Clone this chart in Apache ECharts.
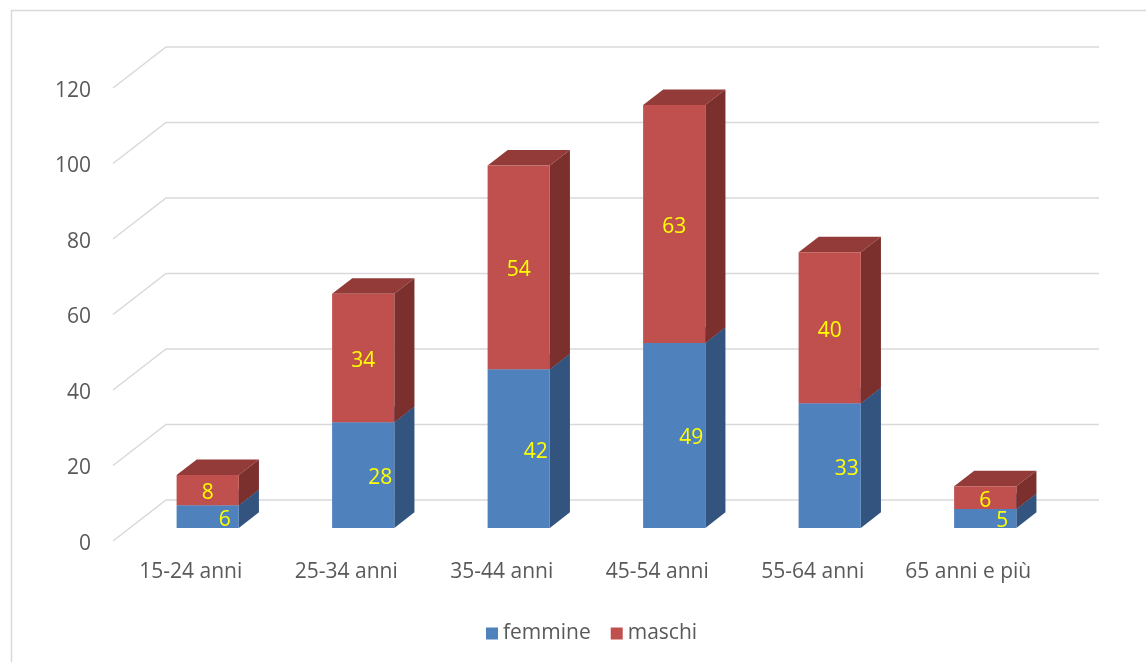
<!DOCTYPE html>
<html>
<head>
<meta charset="utf-8">
<script src="https://cdn.jsdelivr.net/npm/echarts@6/dist/echarts.min.js"></script>
<style>
html,body{margin:0;padding:0;background:#fff;}
#chart{width:1146px;height:662px;}
</style>
</head>
<body>
<div id="chart"></div>
<script>
const categories = ['15-24 anni','25-34 anni','35-44 anni','45-54 anni','55-64 anni','65 anni e più'];
const femmine = [6, 28, 42, 49, 33, 5];
const maschi = [8, 34, 54, 63, 40, 6];
const yTicks = [0, 20, 40, 60, 80, 100, 120];

// 3D projection (pixels for full floor depth)
const DX = 53, DY = -41;
const FRONT = 0.32, BACK = 0.70;
const FONT = '"Open Sans", "Liberation Sans", sans-serif';
const TXT = '#595959';

const chart = echarts.init(document.getElementById('chart'));

function makeBarRender(front, top, side, labelShift) {
  return function (params, api) {
    const i = api.value(0), b = api.value(1), t = api.value(2), v = api.value(3);
    const pb = api.coord([i, b]);
    const pt = api.coord([i, t]);
    const bw = api.size([1, 0])[0] * 0.4;
    const x0 = pb[0] - bw / 2 + DX * FRONT;
    const x1 = x0 + bw;
    const yb = pb[1] + DY * FRONT;
    const yt = pt[1] + DY * FRONT;
    const ddx = DX * (BACK - FRONT), ddy = DY * (BACK - FRONT);
    return {
      type: 'group',
      children: [
        { type: 'polygon', shape: { points: [[x0, yt], [x1, yt], [x1 + ddx, yt + ddy], [x0 + ddx, yt + ddy]] }, style: { fill: top } },
        { type: 'polygon', shape: { points: [[x1, yb], [x1 + ddx, yb + ddy], [x1 + ddx, yt + ddy], [x1, yt]] }, style: { fill: side } },
        { type: 'rect', shape: { x: x0, y: yt, width: bw, height: yb - yt }, style: { fill: front } },
        { type: 'text', x: (x0 + x1) / 2 + labelShift, y: (yt + yb) / 2 + 3,
          style: { text: String(v), fill: '#FFFF00', font: '21px ' + FONT, align: 'center', verticalAlign: 'middle' } }
      ]
    };
  };
}

const femData = categories.map((c, i) => [i, 0, femmine[i], femmine[i]]);
const masData = categories.map((c, i) => [i, femmine[i], femmine[i] + maschi[i], maschi[i]]);
const gridData = yTicks.map(v => [0, v]);

chart.setOption({
  animation: false,
  backgroundColor: '#fff',
  textStyle: { fontFamily: FONT },
  graphic: [{
    type: 'rect', shape: { x: 11.5, y: 10.5, width: 1300, height: 800 },
    style: { fill: 'none', stroke: '#d9d9d9', lineWidth: 1.5 }, z: -10
  }],
  grid: { left: 113, right: 100, top: 88, bottom: 121 },
  xAxis: {
    type: 'category', data: categories,
    axisLine: { show: false }, axisTick: { show: false },
    axisLabel: { color: TXT, fontSize: 21, margin: 21, fontFamily: FONT, interval: 0 },
    splitLine: { show: false }
  },
  yAxis: {
    type: 'value', min: 0, max: 120, interval: 20,
    axisLine: { show: false }, axisTick: { show: false },
    axisLabel: {
      color: TXT, fontSize: 21, margin: 22, fontFamily: FONT,
      formatter: '{a|{value}}',
      rich: { a: { color: TXT, fontSize: 21, fontFamily: FONT, padding: [6, 0, 0, 0] } }
    },
    splitLine: { show: false }
  },
  legend: {
    data: ['femmine', 'maschi'], left: 481, top: 618,
    icon: 'rect', itemWidth: 12, itemHeight: 12, itemGap: 20,
    textStyle: { color: TXT, fontSize: 21, fontFamily: FONT }
  },
  series: [
    {
      type: 'custom', name: 'grid', data: gridData, silent: true, z: 1,
      encode: { x: 0, y: 1 },
      renderItem: function (params, api) {
        const y = api.coord([0, api.value(1)])[1];
        const cs = params.coordSys;
        const l = cs.x, r = cs.x + cs.width;
        return { type: 'polyline', shape: { points: [[l, y], [l + DX, y + DY], [r + DX, y + DY]] },
          style: { stroke: '#d9d9d9', lineWidth: 1.5, fill: null } };
      }
    },
    {
      type: 'custom', name: 'femmine', data: femData, z: 2,
      itemStyle: { color: '#4F81BD' },
      encode: { x: 0, y: [1, 2] },
      renderItem: makeBarRender('#4F81BD', '#3F6A9F', '#33547F', 17)
    },
    {
      type: 'custom', name: 'maschi', data: masData, z: 3,
      itemStyle: { color: '#C0504D' },
      encode: { x: 0, y: [1, 2] },
      renderItem: makeBarRender('#C0504D', '#923B39', '#7B302E', 0)
    }
  ]
});
</script>
</body>
</html>
